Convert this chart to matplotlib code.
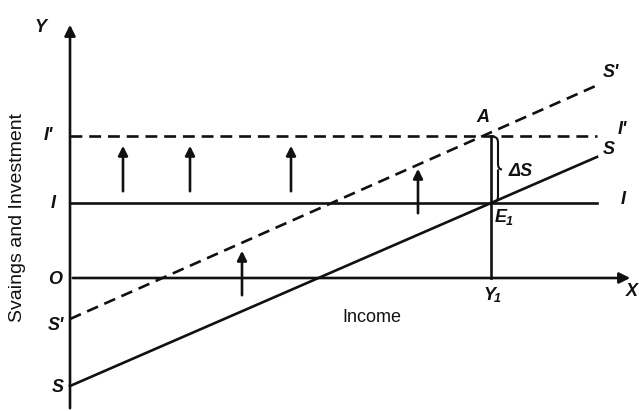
import numpy as np
import matplotlib
matplotlib.use('Agg')
import matplotlib.pyplot as plt
from matplotlib.path import Path
import matplotlib.patches as patches

# Savings / investment diagram (values in pixel-like units from origin O)
incomeY1 = 421
investI = 75
investI2 = 142
savingsS0 = -108
savingsS0p = investI2 - (investI - savingsS0)  # S' parallel to S, through A
slope = (investI - savingsS0) / incomeY1
lineEnd = 527
axisXEnd = 563
axisYEnd = 256

# upward shift arrows: (x, y_base, y_tip)
shiftArrows = [(53, 84, 135), (120, 84, 135), (221, 84, 135), (348, 62, 112), (172, -20, 30)]

fig = plt.figure(figsize=(6.39, 4.11), dpi=100)
ax = fig.add_axes([0, 0, 1, 1])
ax.set_xlim(-70, 569)
ax.set_ylim(-133, 278)
ax.axis('off')

lw = 1.9
k = '#111111'
dash = (0, (4.5, 2.6))

# axes
ax.annotate('', xy=(0, axisYEnd), xytext=(0, -133),
            arrowprops=dict(arrowstyle='-|>', lw=lw, color=k, mutation_scale=16))
ax.annotate('', xy=(axisXEnd, 0), xytext=(0, 0),
            arrowprops=dict(arrowstyle='-|>', lw=lw, color=k, mutation_scale=16))

# investment lines
ax.plot([0, lineEnd], [investI, investI], color=k, lw=lw)
ax.plot([0, lineEnd], [investI2, investI2], color=k, lw=lw, ls=dash)

# savings lines
xs = np.array([0, lineEnd])
ax.plot(xs, savingsS0 + slope * xs, color=k, lw=lw)
ax.plot(xs, savingsS0p + slope * xs * 1.02, color=k, lw=lw, ls=dash)

# vertical from Y1 up to A
ax.plot([incomeY1, incomeY1], [0, investI2], color=k, lw=lw)

# shift arrows
for x, y0, y1 in shiftArrows:
    ax.annotate('', xy=(x, y1), xytext=(x, y0),
                arrowprops=dict(arrowstyle='-|>', lw=lw, color=k, mutation_scale=14))

# curly brace for delta S
bx = incomeY1 + 3
w, r = 8, 6
top, bot = investI2 - 1, investI + 1
mid = (top + bot) / 2
verts = [(bx, top), (bx + w / 2, top), (bx + w / 2, top - r),
         (bx + w / 2, mid + r),
         (bx + w / 2, mid), (bx + w, mid),
         (bx + w / 2, mid), (bx + w / 2, mid - r),
         (bx + w / 2, bot + r),
         (bx + w / 2, bot), (bx, bot)]
codes = [Path.MOVETO, Path.CURVE3, Path.CURVE3, Path.LINETO,
         Path.CURVE3, Path.CURVE3, Path.MOVETO, Path.CURVE3,
         Path.LINETO, Path.CURVE3, Path.CURVE3]
ax.add_patch(patches.PathPatch(Path(verts, codes), fc='none', ec=k, lw=1.5))

font = dict(family='Liberation Sans', style='italic', fontweight='bold', color=k)
def label(x, y, s, sub=None, size=13):
    ax.text(x, y, s, fontsize=size, ha='center', va='center', **font)
    if sub:
        ax.text(x + 8, y - 4, sub, fontsize=9, ha='center', va='center', **font)

label(-30, 250, 'Y')
label(-22, 143, "I'")
label(-17, 75, 'I')
label(-15, -2, 'O')
label(-14, -47, "S'")
label(-12, -109, 'S')
label(562, -13, 'X')
label(incomeY1 - 2, -17, 'Y', '1')
label(incomeY1 + 10, 60, 'E', '1')
label(incomeY1 - 8, 160, 'A')
label(incomeY1 + 30, 106, '\u0394S')
label(552, 148, "I'")
label(553, 78, 'I')
label(539, 128, 'S')
label(541, 205, "S'")

ax.text(302, -39, 'Income', fontsize=13, ha='center', va='center',
        family='Liberation Sans', color=k)
ax.text(-52, 60, 'Svaings and Investment', fontsize=14, ha='center', va='center',
        rotation=90, family='Liberation Sans', color=k)

fig.savefig('out.png', dpi=100, facecolor='white')
